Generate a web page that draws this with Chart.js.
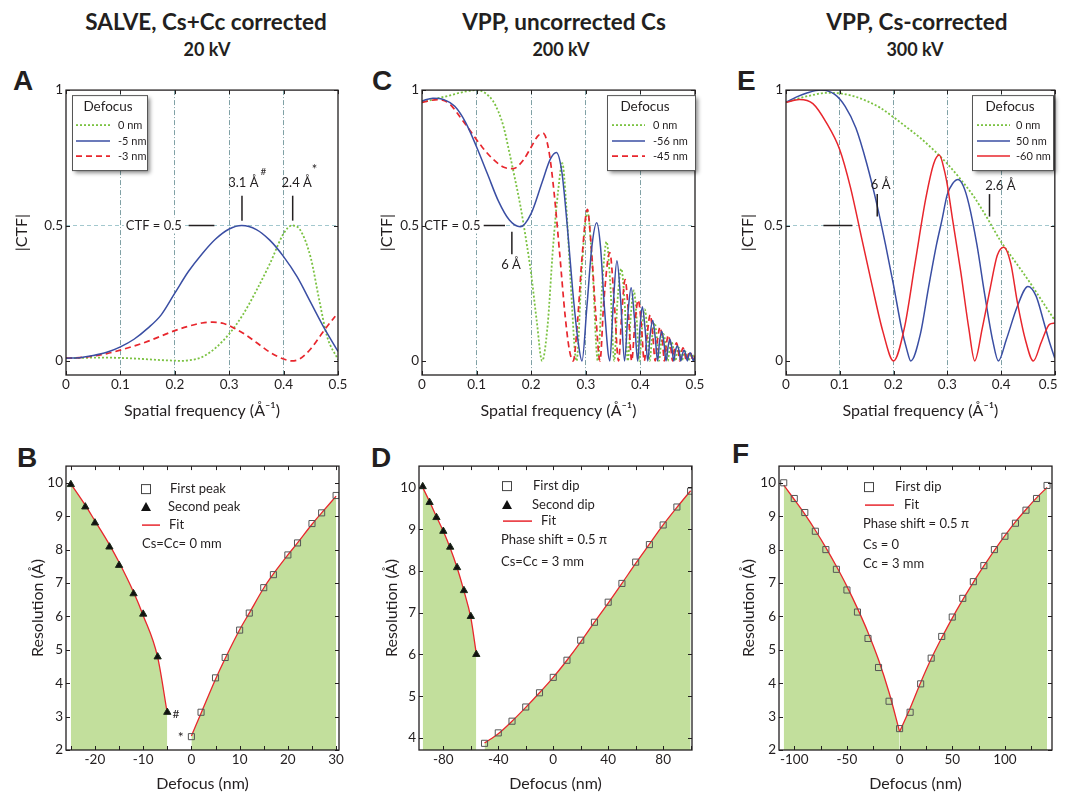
<!DOCTYPE html>
<html>
<head>
<meta charset="utf-8">
<title>CTF comparison</title>
<script src="https://cdn.jsdelivr.net/npm/chart.js@4.4.1/dist/chart.umd.min.js"></script>
<style>
  html, body { margin: 0; padding: 0; background: #fff; width: 1065px; height: 792px; overflow: hidden; }
  body { position: relative; font-family: Lato, "Open Sans", sans-serif; color: #231f20; }
  canvas { position: absolute; }
  .head { position: absolute; width: 320px; text-align: center; font-weight: bold; white-space: nowrap; line-height: 1.2; }
  .big { font-size: 22.5px; top: 8px; }
  .kv { font-size: 18px; top: 39px; }
  .tag { position: absolute; font-family: "Liberation Sans", Arial, sans-serif; font-weight: bold; font-size: 28px; line-height: 1; }
</style>
</head>
<body>
<div class="head big" style="left:46px">SALVE, Cs+Cc corrected</div>
<div class="head kv" style="left:47px">20 kV</div>
<div class="head big" style="left:404px">VPP, uncorrected Cs</div>
<div class="head kv" style="left:401px">200 kV</div>
<div class="head big" style="left:757px">VPP, Cs-corrected</div>
<div class="head kv" style="left:755px">300 kV</div>

<div class="tag" style="left:13px;top:67px">A</div>
<div class="tag" style="left:372px;top:67px">C</div>
<div class="tag" style="left:737px;top:67px">E</div>
<div class="tag" style="left:17px;top:444px">B</div>
<div class="tag" style="left:371px;top:444px">D</div>
<div class="tag" style="left:732px;top:440px">F</div>

<canvas id="cA"></canvas>
<canvas id="cC"></canvas>
<canvas id="cE"></canvas>
<canvas id="cB"></canvas>
<canvas id="cD"></canvas>
<canvas id="cF"></canvas>

<script>
// ---- A: SALVE, 20 kV, |CTF| vs spatial frequency ----
const aFreqBlue = [0,0.025,0.05,0.075,0.1,0.125,0.15,0.175,0.2,0.225,0.25,0.275,0.3,0.323,0.35,0.375,0.4,0.425,0.45,0.475,0.5];
const aBlue = [0.01,0.012,0.02,0.032,0.052,0.08,0.12,0.17,0.25,0.33,0.395,0.45,0.487,0.5,0.485,0.445,0.385,0.31,0.215,0.12,0.035];
const aFreqRed = [0,0.025,0.05,0.075,0.1,0.125,0.15,0.175,0.2,0.225,0.25,0.27,0.29,0.31,0.33,0.35,0.375,0.4,0.415,0.43,0.45,0.47,0.485,0.495];
const aRed = [0.01,0.012,0.018,0.027,0.04,0.055,0.072,0.092,0.112,0.128,0.14,0.143,0.138,0.12,0.097,0.068,0.032,0.007,0.0,0.008,0.045,0.1,0.14,0.165];
const aFreqGreen = [0,0.025,0.05,0.075,0.1,0.125,0.15,0.175,0.2,0.21,0.225,0.25,0.275,0.3,0.325,0.35,0.375,0.4,0.415,0.43,0.45,0.465,0.48,0.5];
const aGreen = [0.01,0.011,0.012,0.012,0.011,0.009,0.006,0.003,0.001,0.0,0.002,0.014,0.048,0.1,0.17,0.26,0.36,0.47,0.5,0.485,0.38,0.23,0.09,0.005];
const aLabels = ['0 nm', '-5 nm', '-3 nm'];

// ---- C: VPP, 200 kV ----
const cFreqBlue = [0,0.02,0.04,0.06,0.08,0.1,0.12,0.14,0.16,0.18,0.2,0.22,0.235,0.246,0.256,0.266,0.276,0.286,0.293,0.302,0.311,0.32,0.327,0.334,0.344,0.35,0.357,0.364,0.371,0.377,0.383,0.389,0.395,0.3995,0.4035,0.4085,0.4135,0.418,0.4225,0.427,0.4315,0.435,0.439,0.443,0.447,0.4505,0.454,0.4575,0.461,0.464,0.4675,0.471,0.474,0.477,0.48,0.483,0.486,0.4885,0.491,0.494,0.497,0.5];
const cBlue = [0.96,0.97,0.965,0.94,0.88,0.79,0.69,0.59,0.52,0.495,0.545,0.66,0.745,0.77,0.7,0.5,0.26,0.07,0.0,0.2,0.42,0.51,0.42,0.2,0.0,0.2,0.37,0.22,0.0,0.17,0.27,0.16,0.0,0.13,0.2,0.12,0.0,0.1,0.15,0.09,0.0,0.07,0.11,0.07,0.0,0.05,0.08,0.05,0.0,0.035,0.055,0.035,0.0,0.025,0.04,0.025,0.0,0.02,0.03,0.02,0.0,0.015];
const cFreqRed = [0,0.03,0.05,0.07,0.09,0.11,0.13,0.15,0.167,0.185,0.2,0.212,0.222,0.232,0.242,0.252,0.262,0.27,0.277,0.285,0.293,0.303,0.31,0.318,0.326,0.333,0.344,0.352,0.36,0.366,0.372,0.378,0.384,0.39,0.396,0.4015,0.407,0.4125,0.418,0.4225,0.427,0.4315,0.436,0.44,0.444,0.4475,0.451,0.455,0.459,0.4625,0.466,0.469,0.472,0.475,0.478,0.481,0.484,0.4875,0.491,0.4935,0.496,0.5];
const cRed = [0.955,0.965,0.95,0.9,0.845,0.79,0.745,0.715,0.71,0.74,0.79,0.83,0.84,0.78,0.62,0.4,0.17,0.04,0.0,0.15,0.38,0.56,0.42,0.18,0.0,0.22,0.4,0.22,0.0,0.18,0.3,0.18,0.0,0.14,0.225,0.14,0.0,0.1,0.17,0.1,0.0,0.08,0.125,0.08,0.0,0.06,0.095,0.06,0.0,0.045,0.067,0.045,0.0,0.03,0.048,0.03,0.0,0.022,0.035,0.02,0.0,0.02];
const cFreqGreen = [0,0.02,0.05,0.08,0.1,0.115,0.13,0.14,0.15,0.16,0.17,0.18,0.19,0.2,0.21,0.22,0.23,0.24,0.25,0.257,0.264,0.272,0.283,0.293,0.303,0.312,0.322,0.33,0.338,0.345,0.352,0.358,0.365,0.371,0.377,0.3825,0.388,0.393,0.398,0.403,0.408,0.4125,0.417,0.4215,0.426,0.43,0.434,0.438,0.442,0.446,0.45,0.4535,0.457,0.4605,0.464,0.467,0.47,0.473,0.476,0.479,0.482,0.485,0.488,0.491,0.494,0.497,0.5];
const cGreen = [0.955,0.965,0.98,0.995,1.0,0.99,0.96,0.92,0.86,0.77,0.675,0.575,0.455,0.32,0.15,0.0,0.13,0.42,0.64,0.73,0.58,0.3,0.0,0.35,0.55,0.35,0.0,0.28,0.44,0.28,0.0,0.22,0.34,0.22,0.0,0.17,0.26,0.16,0.0,0.12,0.19,0.12,0.0,0.09,0.14,0.09,0.0,0.065,0.1,0.065,0.0,0.045,0.07,0.045,0.0,0.03,0.05,0.03,0.0,0.022,0.035,0.022,0.0,0.016,0.025,0.016,0.0];
const cLabels = ['0 nm', '-56 nm', '-45 nm'];

// ---- E: VPP Cs-corrected, 300 kV ----
const eFreqGreen = [0,0.025,0.05,0.075,0.1,0.125,0.15,0.175,0.2,0.225,0.25,0.275,0.3,0.325,0.35,0.375,0.4,0.425,0.45,0.475,0.5];
const eGreen = [0.955,0.97,0.982,0.99,0.988,0.978,0.96,0.935,0.9,0.862,0.823,0.778,0.728,0.67,0.605,0.525,0.44,0.37,0.3,0.225,0.15];
const eFreqBlue = [0,0.02,0.04,0.065,0.09,0.11,0.13,0.15,0.17,0.185,0.2,0.215,0.225,0.232,0.25,0.265,0.28,0.29,0.3,0.31,0.32,0.33,0.34,0.355,0.37,0.385,0.395,0.41,0.43,0.45,0.465,0.48,0.49,0.5];
const eBlue = [0.955,0.975,0.99,1.0,0.985,0.94,0.86,0.73,0.57,0.43,0.28,0.12,0.04,0.0,0.1,0.27,0.43,0.52,0.615,0.655,0.67,0.645,0.58,0.43,0.24,0.07,0.0,0.08,0.2,0.275,0.24,0.14,0.07,0.01];
const eFreqRed = [0,0.025,0.05,0.075,0.1,0.12,0.14,0.16,0.18,0.2,0.22,0.24,0.26,0.275,0.285,0.295,0.3,0.31,0.325,0.34,0.351,0.365,0.38,0.393,0.405,0.418,0.43,0.445,0.46,0.475,0.49,0.5];
const eRed = [0.955,0.965,0.95,0.88,0.78,0.64,0.46,0.28,0.11,0.0,0.12,0.36,0.6,0.73,0.76,0.7,0.65,0.52,0.33,0.12,0.0,0.12,0.27,0.39,0.42,0.36,0.22,0.08,0.0,0.07,0.135,0.14];
const eLabels = ['0 nm', '50 nm', '-60 nm'];

const freqTicks = [0, 0.1, 0.2, 0.3, 0.4, 0.5];
const ctfTicks = [0, 0.5, 1];

// ---- B: resolution vs defocus, SALVE ----
const bFirstX = [0,2,5,7,10,12,15,17,20,22,25,27,30];
const bFirst = [2.4,3.13,4.16,4.77,5.59,6.1,6.86,7.25,7.84,8.2,8.78,9.1,9.62];
const bSecondX = [-25,-22,-20,-17,-15,-12,-10,-7,-5];
const bSecond = [9.95,9.28,8.8,8.08,7.53,6.68,6.07,4.79,3.13];
const bFitL = [9.97,9.33,8.86,8.15,7.62,6.73,6.03,4.78,3.1];
const bFitR = [2.42,3.1,4.12,4.74,5.6,6.1,6.85,7.27,7.84,8.2,8.76,9.1,9.6];
const bTicksX = [-20, -10, 0, 10, 20, 30];
const bTicksY = [2, 3, 4, 5, 6, 7, 8, 9, 10];

// ---- D: resolution vs defocus, VPP 200 kV ----
const dFirstX = [-50,-40,-30,-20,-10,0,10,20,30,40,50,60,70,80,90,100];
const dFirst = [3.87,4.12,4.4,4.74,5.08,5.45,5.86,6.34,6.77,7.25,7.7,8.21,8.63,9.1,9.53,9.91];
const dSecondX = [-95,-90,-85,-80,-75,-70,-65,-60,-56];
const dSecond = [10.02,9.64,9.28,8.95,8.57,8.08,7.53,6.91,6.0];
const dFitL = [10.0,9.66,9.3,8.95,8.55,8.08,7.52,6.88,6.02];
const dFitR = [3.88,4.1,4.4,4.73,5.08,5.45,5.86,6.3,6.77,7.23,7.7,8.18,8.64,9.1,9.52,9.92];
const dTicksX = [-80, -40, 0, 40, 80];
const dTicksY = [4, 5, 6, 7, 8, 9, 10];

// ---- F: resolution vs defocus, VPP 300 kV ----
const fNegX = [-110,-100,-90,-80,-70,-60,-50,-40,-30,-20,-10,0];
const fNeg = [10.0,9.53,9.11,8.55,8.0,7.41,6.79,6.13,5.34,4.47,3.46,2.64];
const fPosX = [10,20,30,40,50,60,70,80,90,100,110,120,130,140];
const fPos = [3.13,3.98,4.75,5.4,5.98,6.54,7.04,7.52,8.0,8.4,8.79,9.18,9.53,9.92];
const fFitNeg = [9.93,9.5,9.06,8.58,8.06,7.5,6.9,6.24,5.52,4.7,3.72,2.55];
const fFitPosX = [0,10,20,30,40,50,60,70,80,90,100,110,120,130,140];
const fFitPos = [2.55,3.25,4.02,4.73,5.36,5.95,6.5,7.02,7.51,7.98,8.42,8.83,9.2,9.55,9.86];
const fTicksX = [-100, -50, 0, 50, 100];
const fTicksY = [2, 3, 4, 5, 6, 7, 8, 9, 10];

const INK = '#231f20';
const FONT = 'Lato, "Open Sans", sans-serif';
const BLUE = '#3a4ea3', RED = '#e8262d', GREEN = '#7bc242', FILL = '#c2df9c';

function pts(xs, ys) { return xs.map((x, i) => ({ x: x, y: ys[i] })); }

const dotted = { c: GREEN, w: 1.8, d: [2, 2] };
const solidBlue = { c: BLUE, w: 1.5, d: [] };
const dashedRed = { c: RED, w: 1.7, d: [6, 4] };
const solidRed = { c: RED, w: 1.5, d: [] };

function curve(xs, ys, st) {
  return { data: pts(xs, ys), borderColor: st.c, borderWidth: st.w, borderDash: st.d,
           pointRadius: 0, fill: false, cubicInterpolationMode: 'monotone' };
}
function fit(xs, ys) {
  return { data: pts(xs, ys), borderColor: RED, borderWidth: 1.3, pointRadius: 0,
           fill: 'start', backgroundColor: FILL, cubicInterpolationMode: 'monotone' };
}
function squares(xs, ys) {
  return { data: pts(xs, ys), showLine: false, pointStyle: 'rect', pointRadius: 4.3,
           borderColor: '#555', borderWidth: 1, backgroundColor: 'rgba(0,0,0,0)' };
}
function triangles(xs, ys) {
  return { data: pts(xs, ys), showLine: false, pointStyle: 'triangle', pointRadius: 4.2,
           borderColor: '#1c2a18', borderWidth: 1, backgroundColor: '#111' };
}

// frame with inner ticks, notes and legends
function decor(p) {
  return {
    id: 'decor',
    afterDatasetsDraw(chart) {
      const ctx = chart.ctx, a = chart.chartArea, sx = chart.scales.x, sy = chart.scales.y;
      ctx.save();
      ctx.strokeStyle = INK;
      ctx.fillStyle = INK;
      (p.lines || []).forEach(l => {
        ctx.lineWidth = 1.5;
        ctx.beginPath();
        ctx.moveTo(sx.getPixelForValue(l[0]), sy.getPixelForValue(l[1]));
        ctx.lineTo(sx.getPixelForValue(l[2]), sy.getPixelForValue(l[3]));
        ctx.stroke();
      });
      (p.texts || []).forEach(t => {
        ctx.font = (t.s || 13) + 'px ' + FONT;
        ctx.textAlign = t.al || 'center';
        ctx.textBaseline = 'middle';
        const x = sx.getPixelForValue(t.x), y = sy.getPixelForValue(t.y);
        if (t.bg) {
          const w = ctx.measureText(t.t).width;
          ctx.fillStyle = '#fff';
          ctx.fillRect(x - w - 2, y - 8, w + 4, 16);
          ctx.fillStyle = INK;
        }
        ctx.fillText(t.t, x, y);
      });
      ctx.lineWidth = 1;
      ctx.beginPath();
      p.xt.forEach(v => {
        const x = Math.round(sx.getPixelForValue(v)) + 0.5;
        ctx.moveTo(x, a.bottom); ctx.lineTo(x, a.bottom - 4);
        ctx.moveTo(x, a.top); ctx.lineTo(x, a.top + 4);
      });
      p.yt.forEach(v => {
        const y = Math.round(sy.getPixelForValue(v)) + 0.5;
        ctx.moveTo(a.left, y); ctx.lineTo(a.left + 4, y);
        ctx.moveTo(a.right, y); ctx.lineTo(a.right - 4, y);
      });
      ctx.stroke();
      ctx.lineWidth = 1.3;
      ctx.strokeRect(a.left, a.top, a.right - a.left, a.bottom - a.top);
      ctx.restore();
    },
    afterDraw(chart) {
      const ctx = chart.ctx, a = chart.chartArea;
      const g = p.legend;
      if (!g) return;
      ctx.save();
      if (g.box) {
        const x = a.left + g.box[0], y = a.top + 5, w = g.box[1], h = 75;
        ctx.shadowColor = 'rgba(0,0,0,0.45)';
        ctx.shadowBlur = 4; ctx.shadowOffsetX = 3; ctx.shadowOffsetY = 3;
        ctx.fillStyle = '#fff';
        ctx.fillRect(x, y, w, h);
        ctx.shadowColor = 'rgba(0,0,0,0)';
        ctx.strokeStyle = '#555'; ctx.lineWidth = 1;
        ctx.strokeRect(x + 0.5, y + 0.5, w, h);
        ctx.fillStyle = INK; ctx.textAlign = 'center'; ctx.textBaseline = 'middle';
        ctx.font = '13.5px ' + FONT;
        ctx.fillText('Defocus', a.left + g.tx, a.top + 17);
        ctx.font = '11px ' + FONT; ctx.textAlign = 'left';
        g.styles.forEach((st, i) => {
          const yy = a.top + [35, 51, 66][i];
          ctx.strokeStyle = st.c; ctx.lineWidth = st.w; ctx.setLineDash(st.d);
          ctx.beginPath(); ctx.moveTo(a.left + g.l0, yy); ctx.lineTo(a.left + g.l1, yy); ctx.stroke();
          ctx.setLineDash([]);
          ctx.fillText(g.labels[i], a.left + g.lx, yy);
        });
      } else {
        ctx.font = '13px ' + FONT; ctx.textBaseline = 'middle'; ctx.textAlign = 'left';
        g.items.forEach(it => {
          const cx = a.left + it.mx, cy = a.top + it.dy;
          if (it.kind === 'sq') {
            ctx.strokeStyle = '#444'; ctx.lineWidth = 1;
            ctx.strokeRect(cx - 4.5, cy - 4.5, 9, 9);
          } else if (it.kind === 'tri') {
            ctx.fillStyle = '#111';
            ctx.beginPath(); ctx.moveTo(cx, cy - 5); ctx.lineTo(cx + 5, cy + 4); ctx.lineTo(cx - 5, cy + 4); ctx.closePath(); ctx.fill();
          } else if (it.kind === 'line') {
            ctx.strokeStyle = RED; ctx.lineWidth = 1.5;
            ctx.beginPath(); ctx.moveTo(a.left + it.mx, cy); ctx.lineTo(a.left + it.mx2, cy); ctx.stroke();
          }
          ctx.fillStyle = INK;
          ctx.fillText(it.t, a.left + it.tx, cy);
        });
      }
      ctx.restore();
    }
  };
}

function panel(id, geo, cfg) {
  const cv = document.getElementById(id);
  const pt = 8, pr = 14;
  cv.width = geo.yw + (geo.r - geo.l) + pr;
  cv.height = pt + (geo.b - geo.t) + geo.xh;
  cv.style.left = (geo.l - geo.yw) + 'px';
  cv.style.top = (geo.t - pt) + 'px';
  const tickFont = { family: FONT, size: 13.5 };
  const titleFont = { family: FONT, size: 16 };
  const fmt = cfg.xFmt || (v => String(v));
  return new Chart(cv, {
    type: 'line',
    data: { datasets: cfg.datasets },
    options: {
      responsive: false,
      animation: false,
      devicePixelRatio: 1,
      layout: { padding: { top: pt, right: pr, left: 0, bottom: 0 } },
      plugins: { legend: { display: false }, tooltip: { enabled: false } },
      scales: {
        x: {
          type: 'linear', min: cfg.x[0], max: cfg.x[1],
          afterBuildTicks: s => { s.ticks = cfg.xTicks.map(v => ({ value: v })); },
          afterFit: s => { s.height = geo.xh; },
          ticks: { font: tickFont, color: INK, padding: 2, autoSkip: false, maxRotation: 0, callback: fmt },
          grid: cfg.xGrid ? { drawTicks: false, lineWidth: 1,
                  color: c => (c.tick && cfg.xGrid.includes(c.tick.value)) ? '#7fa1a5' : 'rgba(0,0,0,0)' }
                : { display: false, drawTicks: false },
          border: { display: false, dash: [5, 2, 1, 2] },
          title: { display: true, text: cfg.xTitle, font: titleFont, color: INK }
        },
        y: {
          min: cfg.y[0], max: cfg.y[1],
          afterBuildTicks: s => { s.ticks = cfg.yTicks.map(v => ({ value: v })); },
          afterFit: s => { s.width = geo.yw; },
          ticks: { font: tickFont, color: INK, padding: 3, autoSkip: false, callback: v => String(v) },
          grid: cfg.yGrid ? { drawTicks: false, lineWidth: 1,
                  color: c => (c.tick && cfg.yGrid.includes(c.tick.value)) ? '#a3c8ce' : 'rgba(0,0,0,0)' }
                : { display: false, drawTicks: false },
          border: { display: false, dash: [4, 3] },
          title: { display: true, text: cfg.yTitle, font: titleFont, color: INK }
        }
      }
    },
    plugins: [decor(cfg.decor)]
  });
}

const FREQ = 'Spatial frequency (\u00C5\u207B\u00B9)';
const topCommon = { x: [0, 0.5], y: [-0.052, 1], xTicks: freqTicks, yTicks: ctfTicks,
                    xGrid: [0.1, 0.2, 0.3, 0.4], yGrid: [0.5], xTitle: FREQ, yTitle: '|CTF|' };

panel('cA', { l: 66, t: 87, r: 338, b: 375, yw: 58, xh: 49 }, Object.assign({}, topCommon, {
  datasets: [curve(aFreqBlue, aBlue, solidBlue), curve(aFreqRed, aRed, dashedRed), curve(aFreqGreen, aGreen, dotted)],
  decor: {
    xt: freqTicks, yt: ctfTicks,
    lines: [[0.2255, 0.5, 0.2727, 0.5], [0.3235, 0.518, 0.3235, 0.61], [0.4167, 0.518, 0.4167, 0.61]],
    texts: [{ t: 'CTF = 0.5', x: 0.213, y: 0.5, al: 'right', bg: true },
            { t: '3.1 \u00C5', x: 0.326, y: 0.656 }, { t: '#', x: 0.363, y: 0.70, s: 10 },
            { t: '2.4 \u00C5', x: 0.424, y: 0.656 }, { t: '*', x: 0.457, y: 0.705, s: 13 }],
    legend: { box: [6, 75], tx: 42, l0: 10, l1: 44, lx: 52, styles: [dotted, solidBlue, dashedRed], labels: aLabels }
  }
}));

panel('cC', { l: 422, t: 87, r: 695, b: 375, yw: 49, xh: 49 }, Object.assign({}, topCommon, {
  datasets: [curve(cFreqBlue, cBlue, solidBlue), curve(cFreqRed, cRed, dashedRed), curve(cFreqGreen, cGreen, dotted)],
  decor: {
    xt: freqTicks, yt: ctfTicks,
    lines: [[0.113, 0.5, 0.152, 0.5], [0.1646, 0.477, 0.1646, 0.394]],
    texts: [{ t: 'CTF = 0.5', x: 0.107, y: 0.5, al: 'right', bg: true },
            { t: '6 \u00C5', x: 0.163, y: 0.355 }],
    legend: { box: [185, 88], tx: 223, l0: 190, l1: 223, lx: 231, styles: [dotted, solidBlue, dashedRed], labels: cLabels }
  }
}));

panel('cE', { l: 786, t: 87, r: 1059, b: 375, yw: 52, xh: 49 }, Object.assign({}, topCommon, {
  xFmt: v => (v === 0.5 ? '0.5\u2002\u2002' : String(v)),
  datasets: [curve(eFreqRed, eRed, solidRed), curve(eFreqBlue, eBlue, solidBlue), curve(eFreqGreen, eGreen, dotted)],
  decor: {
    xt: freqTicks, yt: ctfTicks,
    lines: [[0.0696, 0.5, 0.1233, 0.5], [0.1697, 0.533, 0.1697, 0.616], [0.3785, 0.533, 0.3785, 0.616]],
    texts: [{ t: '6 \u00C5', x: 0.176, y: 0.652 }, { t: '2.6 \u00C5', x: 0.3987, y: 0.646 }],
    legend: { box: [186, 81], tx: 224, l0: 191, l1: 224, lx: 230, styles: [dotted, solidBlue, solidRed], labels: eLabels }
  }
}));

panel('cB', { l: 66, t: 463, r: 339, b: 750, yw: 42, xh: 47 }, {
  x: [-26, 30.6], y: [2, 10.5], xTicks: bTicksX, yTicks: bTicksY,
  xTitle: 'Defocus (nm)', yTitle: 'Resolution (\u00C5)',
  datasets: [squares(bFirstX, bFirst), triangles(bSecondX, bSecond), fit(bSecondX, bFitL), fit(bFirstX, bFitR)],
  decor: {
    xt: [-25, -20, -15, -10, -5, 0, 5, 10, 15, 20, 25, 30], yt: bTicksY,
    texts: [{ t: '#', x: -3.2, y: 3.08, s: 12 }, { t: '*', x: -2.2, y: 2.38, s: 14 }],
    legend: { items: [
      { kind: 'sq', mx: 80, dy: 23, tx: 104, t: 'First peak' },
      { kind: 'tri', mx: 80, dy: 41, tx: 102, t: 'Second peak' },
      { kind: 'line', mx: 76, mx2: 94, dy: 59, tx: 103, t: 'Fit' },
      { kind: 'note', mx: 76, dy: 78, tx: 76, t: 'Cs=Cc= 0 mm' }] }
  }
});

panel('cD', { l: 419, t: 463, r: 692, b: 750, yw: 41, xh: 47 }, {
  x: [-97.7, 101], y: [3.71, 10.51], xTicks: dTicksX, yTicks: dTicksY,
  xTitle: 'Defocus (nm)', yTitle: 'Resolution (\u00C5)',
  datasets: [squares(dFirstX, dFirst), triangles(dSecondX, dSecond), fit(dSecondX, dFitL), fit(dFirstX, dFitR)],
  decor: {
    xt: [-80, -60, -40, -20, 0, 20, 40, 60, 80, 100], yt: dTicksY,
    legend: { items: [
      { kind: 'sq', mx: 88, dy: 20, tx: 114, t: 'First dip' },
      { kind: 'tri', mx: 88, dy: 39, tx: 113, t: 'Second dip' },
      { kind: 'line', mx: 84, mx2: 113, dy: 55, tx: 122, t: 'Fit' },
      { kind: 'note', mx: 82, dy: 74, tx: 82, t: 'Phase shift = 0.5 \u03C0' },
      { kind: 'note', mx: 82, dy: 96, tx: 82, t: 'Cs=Cc = 3 mm' }] }
  }
});

panel('cF', { l: 779, t: 463, r: 1052, b: 750, yw: 44, xh: 47 }, {
  x: [-114.5, 144.7], y: [2, 10.5], xTicks: fTicksX, yTicks: fTicksY,
  xTitle: 'Defocus (nm)', yTitle: 'Resolution (\u00C5)',
  datasets: [squares(fNegX, fNeg), squares(fPosX, fPos), fit(fNegX, fFitNeg), fit(fFitPosX, fFitPos)],
  decor: {
    xt: [-100, -75, -50, -25, 0, 25, 50, 75, 100, 125], yt: fTicksY,
    legend: { items: [
      { kind: 'sq', mx: 90, dy: 21, tx: 116, t: 'First dip' },
      { kind: 'line', mx: 86, mx2: 115, dy: 39, tx: 125, t: 'Fit' },
      { kind: 'note', mx: 84, dy: 58, tx: 84, t: 'Phase shift = 0.5 \u03C0' },
      { kind: 'note', mx: 84, dy: 79, tx: 84, t: 'Cs = 0' },
      { kind: 'note', mx: 84, dy: 98, tx: 84, t: 'Cc = 3 mm' }] }
  }
});
</script>
</body>
</html>
